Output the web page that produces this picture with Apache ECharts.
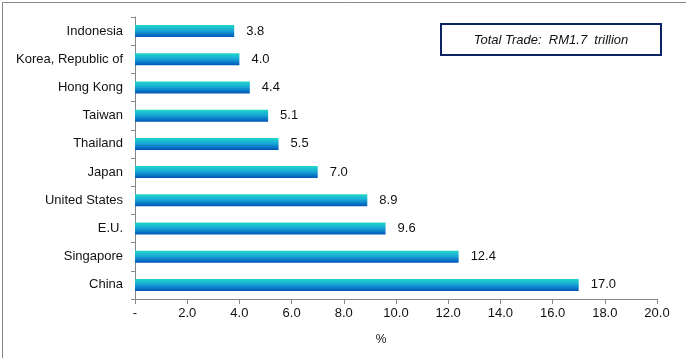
<!DOCTYPE html>
<html><head><meta charset="utf-8">
<script src="https://cdn.jsdelivr.net/npm/echarts@6/dist/echarts.min.js"></script>
<style>html,body{margin:0;padding:0;background:#fff}#c{width:686px;height:358px}</style>
</head><body><div id="c"></div>
<script>
const categories = ["Indonesia","Korea, Republic of","Hong Kong","Taiwan","Thailand","Japan","United States","E.U.","Singapore","China"];
const values = [3.8,4.0,4.4,5.1,5.5,7.0,8.9,9.6,12.4,17.0];
const xTicks = [0,2,4,6,8,10,12,14,16,18,20];
const chart = echarts.init(document.getElementById('c'));
const font = 'Liberation Sans, Arial, sans-serif';
chart.setOption({
  animation:false,
  grid:{left:135,right:29,top:17,bottom:59,containLabel:false},
  xAxis:{type:'value',min:0,max:20,interval:2,
    axisLine:{show:true,lineStyle:{color:'#888',width:1}},
    axisTick:{show:true,length:5,lineStyle:{color:'#888'}},
    splitLine:{show:false},
    axisLabel:{margin:8,fontFamily:font,fontSize:13,color:'#111',formatter:v=>v===0?'-':v.toFixed(1)}},
  yAxis:{type:'category',data:categories,inverse:true,
    axisLine:{show:true,lineStyle:{color:'#888',width:1}},
    axisTick:{show:true,length:4,lineStyle:{color:'#888'}},
    axisLabel:{margin:12,fontFamily:font,fontSize:13,color:'#111'}},
  series:[{type:'bar',data:values,barWidth:12,
    itemStyle:{color:new echarts.graphic.LinearGradient(0,0,0,1,[
      {offset:0,color:'#22d8c6'},{offset:0.45,color:'#18a8d8'},{offset:1,color:'#0054b8'}])},
    label:{show:true,position:'right',distance:12,fontFamily:font,fontSize:13,color:'#111',formatter:p=>p.value.toFixed(1)}}],
  graphic:[
    {type:'rect',left:0,top:0,shape:{x:0.5,y:0.5,width:685,height:357},style:{fill:'none',stroke:'#888',lineWidth:1},silent:true},
    {type:'rect',shape:{x:441,y:24,width:220,height:31},style:{fill:'#fff',stroke:'#0c2464',lineWidth:2}},
    {type:'text',x:551,y:40,style:{text:'Total Trade:  RM1.7  trillion',fontFamily:font,fontSize:13,fontStyle:'italic',fill:'#111',textAlign:'center',textVerticalAlign:'middle'}},
    {type:'text',x:381,y:340,style:{text:'%',fontFamily:font,fontSize:12,fill:'#111',textAlign:'center',textVerticalAlign:'middle'}}
  ]
});
</script></body></html>
